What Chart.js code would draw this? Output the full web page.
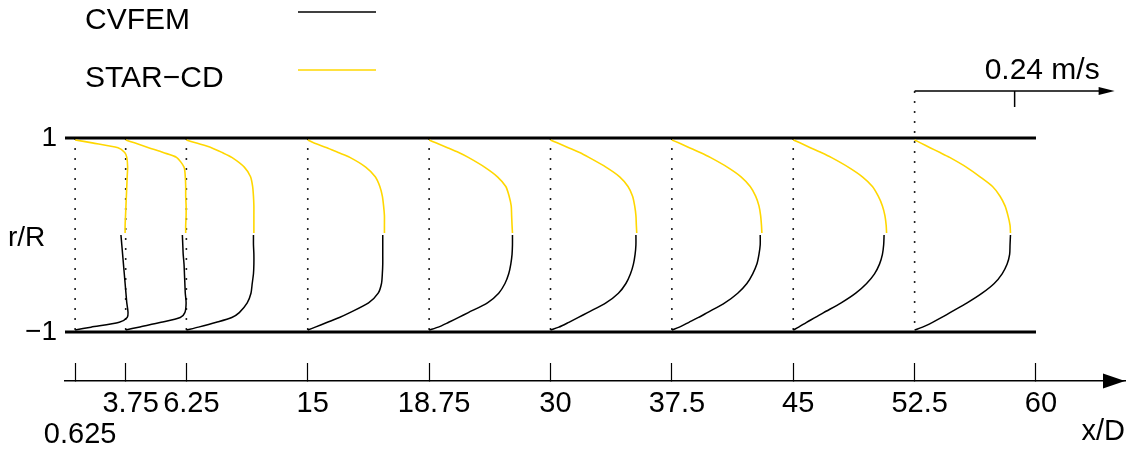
<!DOCTYPE html>
<html>
<head>
<meta charset="utf-8">
<script src="https://cdn.jsdelivr.net/npm/chart.js@4.4.1/dist/chart.umd.min.js"></script>
<style>
  html, body { margin: 0; padding: 0; background: #fff; }
  #wrap { width: 1129px; height: 453px; }
</style>
</head>
<body>
<div id="wrap"><canvas id="c" width="1129" height="453"></canvas></div>
<script>
// Axial stations (x/D) and the labels printed under them
const stations = [0.625, 3.75, 7.5, 15, 22.5, 30, 37.5, 45, 52.5, 60];
const stationLabels = [['', '0.625'], '3.75', '6.25', '15', '18.75', '30', '37.5', '45', '52.5', '60'];

// Stations that carry a velocity profile
const profileStations = [0.625, 3.75, 7.5, 15, 22.5, 30, 37.5, 45, 52.5];

// Radial positions r/R: upper half (STAR-CD) and lower half (CVFEM)
const rUpper = [0.98, 0.95, 0.9, 0.85, 0.8, 0.7, 0.6, 0.5, 0.4, 0.3, 0.2, 0.1, 0.02];
const rLower = [0, -0.1, -0.2, -0.3, -0.4, -0.5, -0.6, -0.7, -0.8, -0.85, -0.9, -0.95, -0.98];

// Axial velocity (m/s), STAR-CD, one row per profile station
const starcdU = [
  [0, 0.041, 0.103, 0.119, 0.124, 0.126, 0.125, 0.124, 0.123, 0.122, 0.121, 0.120, 0.120],
  [0, 0.021, 0.055, 0.090, 0.122, 0.140, 0.143, 0.144, 0.144, 0.145, 0.145, 0.144, 0.144],
  [0, 0.022, 0.060, 0.086, 0.109, 0.139, 0.154, 0.159, 0.161, 0.162, 0.162, 0.162, 0.162],
  [0, 0.014, 0.046, 0.073, 0.101, 0.139, 0.162, 0.173, 0.179, 0.182, 0.184, 0.184, 0.184],
  [0, 0.016, 0.044, 0.071, 0.094, 0.133, 0.164, 0.184, 0.192, 0.197, 0.198, 0.199, 0.200],
  [0, 0.016, 0.043, 0.070, 0.092, 0.133, 0.166, 0.186, 0.197, 0.202, 0.205, 0.206, 0.207],
  [0, 0.016, 0.042, 0.068, 0.092, 0.133, 0.166, 0.188, 0.201, 0.209, 0.213, 0.215, 0.216],
  [0, 0.016, 0.041, 0.067, 0.091, 0.132, 0.166, 0.190, 0.204, 0.214, 0.220, 0.223, 0.224],
  [0, 0.014, 0.037, 0.061, 0.084, 0.124, 0.157, 0.187, 0.205, 0.217, 0.224, 0.229, 0.230]
];

// Axial velocity (m/s), CVFEM, one row per profile station
const cvfemU = [
  [0.110, 0.112, 0.114, 0.116, 0.118, 0.120, 0.122, 0.124, 0.127, 0.125, 0.106, 0.038, 0],
  [0.136, 0.137, 0.138, 0.140, 0.141, 0.142, 0.143, 0.145, 0.142, 0.131, 0.085, 0.031, 0],
  [0.161, 0.161, 0.162, 0.162, 0.161, 0.158, 0.155, 0.146, 0.127, 0.109, 0.072, 0.029, 0],
  [0.180, 0.180, 0.180, 0.180, 0.179, 0.177, 0.169, 0.146, 0.101, 0.076, 0.047, 0.018, 0],
  [0.200, 0.200, 0.199, 0.196, 0.191, 0.182, 0.167, 0.140, 0.094, 0.071, 0.047, 0.022, 0],
  [0.205, 0.205, 0.203, 0.199, 0.192, 0.181, 0.163, 0.133, 0.089, 0.067, 0.044, 0.020, 0],
  [0.212, 0.212, 0.209, 0.204, 0.194, 0.180, 0.158, 0.127, 0.085, 0.064, 0.041, 0.018, 0],
  [0.218, 0.217, 0.214, 0.207, 0.195, 0.176, 0.150, 0.115, 0.073, 0.053, 0.032, 0.013, 0],
  [0.230, 0.229, 0.228, 0.222, 0.210, 0.191, 0.162, 0.126, 0.085, 0.065, 0.043, 0.019, 0]
];

// Velocity scale: refSpeed spans refLength in x/D units
const refSpeed = 0.24;      // m/s
const refLength = 6.18;     // x/D
const refStation = 52.5;    // where the scale arrow starts
const refArrowR = 1.485;    // r/R height of the scale arrow
const K = refLength / refSpeed;

const FONT = 'Liberation Sans, Arial, Helvetica, sans-serif';
const YELLOW = '#ffd700';

const datasets = [];

// velocity profiles
profileStations.forEach((s, i) => {
  datasets.push({
    label: 'STAR−CD ' + s,
    data: rUpper.map((r, j) => ({ x: s + starcdU[i][j] * K, y: r })),
    borderColor: YELLOW, borderWidth: 1.6, tension: 0.25, order: 0
  });
  datasets.push({
    label: 'CVFEM ' + s,
    data: rLower.map((r, j) => ({ x: s + cvfemU[i][j] * K, y: r })),
    borderColor: '#000', borderWidth: 1.5, tension: 0.25, order: 0
  });
});

// pipe walls
const xEnd = stations[stations.length - 1];
[1, -1].forEach(w => {
  datasets.push({
    label: 'wall',
    data: [{ x: 0, y: w }, { x: xEnd, y: w }],
    borderColor: '#000', borderWidth: 3, tension: 0, order: 1
  });
});

// dotted station lines
profileStations.forEach(s => {
  const top = s === refStation ? refArrowR : 1;
  datasets.push({
    label: 'station',
    data: [{ x: s, y: top }, { x: s, y: -1 }],
    borderColor: '#222', borderWidth: 1.6, borderDash: [2, 8], tension: 0, order: 2
  });
});

const extras = {
  id: 'extras',
  afterDraw(chart) {
    const ctx = chart.ctx;
    const xs = chart.scales.x, ys = chart.scales.y;
    const area = chart.chartArea;
    ctx.save();
    ctx.fillStyle = '#000';
    ctx.strokeStyle = '#000';

    // x-axis arrow head
    const ay = area.bottom;
    ctx.beginPath();
    ctx.moveTo(area.right, ay);
    ctx.lineTo(area.right - 22, ay - 7.5);
    ctx.lineTo(area.right - 22, ay + 7.5);
    ctx.closePath();
    ctx.fill();

    // velocity scale arrow
    const x0 = xs.getPixelForValue(refStation);
    const xt = xs.getPixelForValue(refStation + refSpeed * K);
    const x1 = xs.getPixelForValue(refStation + 2 * refSpeed * K);
    const vy = ys.getPixelForValue(refArrowR);
    ctx.lineWidth = 1.5;
    ctx.beginPath();
    ctx.moveTo(x0, vy); ctx.lineTo(x1 - 10, vy);
    ctx.moveTo(xt, vy); ctx.lineTo(xt, vy + 16);
    ctx.stroke();
    ctx.beginPath();
    ctx.moveTo(x1, vy);
    ctx.lineTo(x1 - 16, vy - 4);
    ctx.lineTo(x1 - 16, vy + 4);
    ctx.closePath();
    ctx.fill();
    ctx.font = '30px ' + FONT;
    ctx.textBaseline = 'middle';
    ctx.textAlign = 'left';
    ctx.fillText('0.24 m/s', xt - 30, vy - 20);

    // r/R label
    ctx.font = '28px ' + FONT;
    ctx.fillText('r/R', 8, ys.getPixelForValue(0) + 3);

    // legend
    ctx.font = '30px ' + FONT;
    ctx.fillText('CVFEM', 85, 21);
    ctx.fillText('STAR−CD', 85, 79);
    ctx.lineWidth = 1.5;
    ctx.strokeStyle = '#000';
    ctx.beginPath(); ctx.moveTo(298, 12); ctx.lineTo(376, 12); ctx.stroke();
    ctx.strokeStyle = YELLOW;
    ctx.beginPath(); ctx.moveTo(298, 70); ctx.lineTo(376, 70); ctx.stroke();
    ctx.restore();
  }
};

new Chart(document.getElementById('c'), {
  type: 'scatter',
  data: { datasets },
  options: {
    responsive: false,
    animation: false,
    devicePixelRatio: 1,
    layout: { padding: { left: 0, right: 4, top: 0, bottom: 0 } },
    showLine: true,
    elements: { point: { radius: 0, hoverRadius: 0 }, line: { fill: false } },
    plugins: { legend: { display: false }, tooltip: { enabled: false } },
    scales: {
      x: {
        type: 'linear', position: 'bottom', min: 0, max: 65.5,
        afterBuildTicks: s => { s.ticks = stations.map(v => ({ value: v })); },
        afterFit: s => { s.height = 72; s.paddingLeft = 0; s.paddingRight = 0; },
        ticks: {
          autoSkip: false, maxRotation: 0, minRotation: 0, padding: 25.5, labelOffset: 5,
          color: '#000', font: { family: FONT, size: 29, lineHeight: 1.07 },
          callback: v => stationLabels[stations.indexOf(v)]
        },
        grid: { drawOnChartArea: false, drawTicks: true, tickLength: -18, tickWidth: 1.2, tickColor: '#000' },
        border: { display: true, color: '#000', width: 1.5 },
        title: {
          display: true, text: 'x/D', align: 'end', color: '#000',
          font: { family: FONT, size: 29, lineHeight: 1.2 },
          padding: { top: 0, bottom: 3.6 }
        }
      },
      y: {
        type: 'linear', min: -1.5052, max: 2.4227,
        afterBuildTicks: s => { s.ticks = [{ value: -1 }, { value: 1 }]; },
        afterFit: s => { s.width = 65; s.paddingTop = 0; s.paddingBottom = 0; },
        ticks: {
          padding: 8, color: '#000', font: { family: FONT, size: 28 },
          callback: v => (v < 0 ? '−1' : '1')
        },
        grid: { display: false, drawTicks: false },
        border: { display: false }
      }
    }
  },
  plugins: [extras]
});
</script>
</body>
</html>
